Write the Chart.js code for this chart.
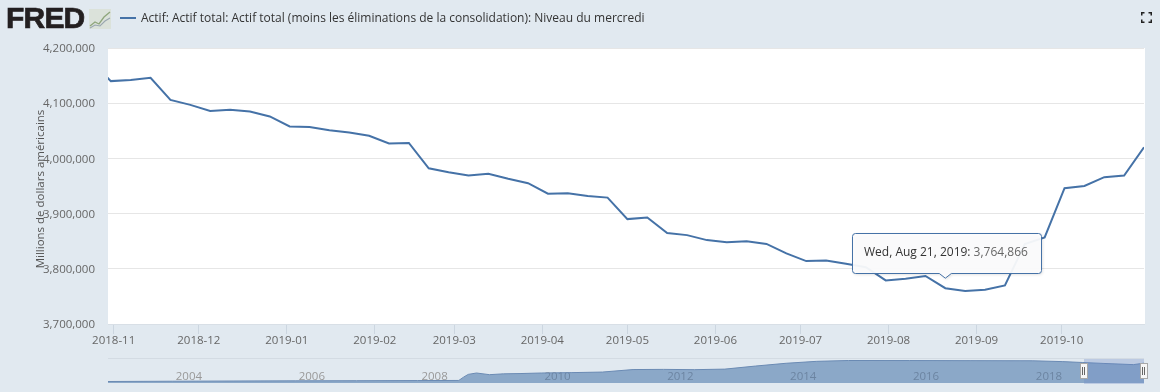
<!DOCTYPE html>
<html lang="fr">

<head>
    <meta charset="UTF-8">
    <title>FRED - Actif total</title>
    <script src="https://cdn.jsdelivr.net/npm/chart.js"></script>
    <style>
        html, body { margin: 0; padding: 0; width: 1160px; height: 392px; overflow: hidden; background: #e1e9f0; }
        body { position: relative; font-family: "Open Sans", sans-serif; }
        canvas { position: absolute; left: 0; }
        #grafico { top: 0; }
        #navegador { top: 355px; }
        .logo { position: absolute; left: 6px; top: 2px; font: bold 30px/32px "Liberation Sans", sans-serif; letter-spacing: -0.8px; color: #231f20; -webkit-text-stroke: 0.7px #231f20; }
        .icone { position: absolute; left: 89px; top: 9px; }
        .traco { position: absolute; left: 120px; top: 17px; width: 16px; height: 2px; background: #4572a7; }
        .legenda { position: absolute; left: 141px; top: 9px; font-size: 12px; line-height: 18px; color: #333; white-space: nowrap; }
        .expandir { position: absolute; left: 1141px; top: 12px; }
    </style>
</head>

<body>

    <canvas id="grafico" width="1160" height="392"></canvas>
    <canvas id="navegador" width="1160" height="37"></canvas>

    <!--header-->
    <div class="logo">FRED</div>
    <svg class="icone" width="22" height="20">
        <rect width="22" height="20" fill="#dbe2da" />
        <polyline points="1,17 6,13 10,15 15,8 21,3" fill="none" stroke="#8fa67c" stroke-width="1.3" />
        <polyline points="1,19 6,16 11,17 16,12 21,9" fill="none" stroke="#9aa7b0" stroke-width="1.1" />
    </svg>
    <div class="traco"></div>
    <div class="legenda">Actif: Actif total: Actif total (moins les éliminations de la consolidation): Niveau du mercredi</div>
    <svg class="expandir" width="11" height="11">
        <path d="M0.75 3.5V0.75H3.5M7.5 0.75H10.25V3.5M10.25 7.5V10.25H7.5M3.5 10.25H0.75V7.5" fill="none" stroke="#222" stroke-width="1.5" />
    </svg>

    <script>
        // dados (milhoes de dolares)
        const datas = ['2018-10-24', '2018-10-31', '2018-11-07', '2018-11-14', '2018-11-21', '2018-11-28',
            '2018-12-05', '2018-12-12', '2018-12-19', '2018-12-26', '2019-01-02', '2019-01-09', '2019-01-16',
            '2019-01-23', '2019-01-30', '2019-02-06', '2019-02-13', '2019-02-20', '2019-02-27', '2019-03-06',
            '2019-03-13', '2019-03-20', '2019-03-27', '2019-04-03', '2019-04-10', '2019-04-17', '2019-04-24',
            '2019-05-01', '2019-05-08', '2019-05-15', '2019-05-22', '2019-05-29', '2019-06-05', '2019-06-12',
            '2019-06-19', '2019-06-26', '2019-07-03', '2019-07-10', '2019-07-17', '2019-07-24', '2019-07-31',
            '2019-08-07', '2019-08-14', '2019-08-21', '2019-08-28', '2019-09-04', '2019-09-11', '2019-09-18',
            '2019-09-25', '2019-10-02', '2019-10-09', '2019-10-16', '2019-10-23', '2019-10-30'];
        const valores = [4176000, 4140000, 4142000, 4146000, 4106000, 4097000,
            4086000, 4088000, 4085000, 4076000, 4058000, 4057000, 4051000,
            4047000, 4041000, 4027000, 4028000, 3982000, 3975000, 3969000,
            3972000, 3963000, 3955000, 3936000, 3937000, 3932000, 3929000,
            3890000, 3893000, 3865000, 3861000, 3852000, 3848000, 3850000,
            3845000, 3828000, 3814000, 3815000, 3809000, 3803000, 3779000,
            3782000, 3787000, 3764866, 3760000, 3762000, 3770000, 3845000,
            3857000, 3946000, 3950000, 3966000, 3969000, 4020000];

        const mesesEixo = ['2018-11', '2018-12', '2019-01', '2019-02', '2019-03', '2019-04',
            '2019-05', '2019-06', '2019-07', '2019-08', '2019-09', '2019-10'];
        const ticksY = [3700000, 3800000, 3900000, 4000000, 4100000, 4200000];
        const inicioX = '2018-10-30';
        const fimX = '2019-10-30';

        const tituloSerie = 'Actif: Actif total: Actif total (moins les éliminations de la consolidation): Niveau du mercredi';
        const tituloY = 'Millions de dollars américains';
        const dataTooltip = '2019-08-21';
        const textoTooltip = 'Wed, Aug 21, 2019:';

        // navegador (serie longa, estimada)
        const datasNav = ['2002-12-18', '2004-01-07', '2005-01-05', '2006-01-04', '2007-01-03', '2008-01-02',
            '2008-09-03', '2008-10-01', '2008-10-29', '2008-12-17', '2009-03-04', '2009-05-27', '2009-09-02',
            '2010-01-06', '2010-07-07', '2011-01-05', '2011-07-06', '2012-01-04', '2012-07-04', '2013-01-02',
            '2013-07-03', '2014-01-01', '2014-07-02', '2015-01-07', '2016-01-06', '2017-01-04', '2018-01-03',
            '2018-07-04', '2018-10-31', '2019-03-06', '2019-08-28', '2019-10-30'];
        const valoresNav = [720000, 770000, 810000, 840000, 860000, 890000,
            910000, 1500000, 2000000, 2250000, 1950000, 2100000, 2150000,
            2250000, 2320000, 2420000, 2870000, 2900000, 2850000, 2950000,
            3500000, 4000000, 4350000, 4500000, 4490000, 4470000, 4450000,
            4300000, 4140000, 3970000, 3760000, 4020000];
        const anosNav = [2004, 2006, 2008, 2010, 2012, 2014, 2016, 2018];
        const inicioSelecao = '2018-11-07';

        function ms(texto) {
            let p = texto.split('-').map(Number);
            return Date.UTC(p[0], p[1] - 1, p[2] || 1);
        }

        // fundo branco da area do grafico + titulo do eixo y
        const pluginFundo = {
            id: 'fundo',
            beforeDraw(chart) {
                let a = chart.chartArea;
                let ctx = chart.ctx;
                ctx.fillStyle = '#ffffff';
                ctx.fillRect(a.left, a.top, a.right - a.left + 1, a.bottom - a.top);
                ctx.save();
                ctx.translate(41, 189);
                ctx.rotate(-Math.PI / 2);
                ctx.font = '11.5px "Open Sans"';
                ctx.fillStyle = '#555555';
                ctx.textAlign = 'center';
                ctx.textBaseline = 'middle';
                ctx.fillText(tituloY, 0, 0);
                ctx.restore();
            }
        };

        const pluginTooltip = {
            id: 'tooltipFixo',
            afterDraw(chart) {
                let ctx = chart.ctx;
                let i = datas.indexOf(dataTooltip);
                let px = chart.scales.x.getPixelForValue(ms(dataTooltip));
                let py = chart.scales.y.getPixelForValue(valores[i]);
                let x = 852.5, y = 233.5, w = 189, h = 40;
                let base = y + h;
                ctx.save();
                ctx.beginPath();
                ctx.moveTo(x + 3, y);
                ctx.arcTo(x + w, y, x + w, base, 3);
                ctx.arcTo(x + w, base, x, base, 3);
                ctx.lineTo(px + 6, base);
                ctx.lineTo(px, py - 10);
                ctx.lineTo(px - 6, base);
                ctx.arcTo(x, base, x, y, 3);
                ctx.arcTo(x, y, x + w, y, 3);
                ctx.closePath();
                ctx.shadowColor = 'rgba(0,0,0,0.15)';
                ctx.shadowBlur = 3;
                ctx.shadowOffsetX = 1;
                ctx.shadowOffsetY = 1;
                ctx.fillStyle = 'rgba(252,252,253,0.94)';
                ctx.fill();
                ctx.shadowColor = 'transparent';
                ctx.strokeStyle = '#4572a7';
                ctx.lineWidth = 1;
                ctx.stroke();
                ctx.font = '12px "Open Sans"';
                ctx.textBaseline = 'middle';
                ctx.fillStyle = '#333333';
                ctx.fillText(textoTooltip, 864, 253);
                let largura = ctx.measureText(textoTooltip + ' ').width;
                ctx.fillStyle = '#666666';
                ctx.fillText(valores[i].toLocaleString('en-US'), 864 + largura, 253);
                ctx.restore();
            }
        };

        new Chart(document.getElementById('grafico'), {
            type: 'line',
            plugins: [pluginFundo, pluginTooltip],
            data: {
                datasets: [{
                    label: tituloSerie,
                    data: datas.map((d, i) => ({ x: ms(d), y: valores[i] })),
                    borderColor: '#4572a7',
                    borderWidth: 2,
                    pointRadius: 0,
                    tension: 0
                }]
            },
            options: {
                responsive: false,
                animation: false,
                events: [],
                layout: { padding: { top: 48, right: 16, left: 0, bottom: 0 } },
                plugins: { legend: { display: false }, tooltip: { enabled: false } },
                scales: {
                    x: {
                        type: 'linear',
                        min: ms(inicioX),
                        max: ms(fimX),
                        afterBuildTicks(scale) {
                            scale.ticks = mesesEixo.map(m => ({ value: ms(m) }));
                        },
                        afterFit(scale) { scale.height = 68; },
                        grid: { drawOnChartArea: false, tickLength: 10, color: '#ccd6e0' },
                        border: { color: '#d8dfe6' },
                        ticks: {
                            autoSkip: false,
                            maxRotation: 0,
                            padding: 0,
                            color: '#666666',
                            font: { family: 'Open Sans', size: 11.5 },
                            callback(v) {
                                return new Date(v).toISOString().slice(0, 7);
                            }
                        }
                    },
                    y: {
                        min: 3700000,
                        max: 4200000,
                        afterBuildTicks(scale) {
                            scale.ticks = ticksY.map(v => ({ value: v }));
                        },
                        afterFit(scale) { scale.width = 108; },
                        grid: { drawTicks: false, color: '#e6e6e6' },
                        border: { display: false },
                        ticks: {
                            padding: 13,
                            labelOffset: 1,
                            color: '#666666',
                            font: { family: 'Open Sans', size: 11.5 },
                            callback(v) { return v.toLocaleString('en-US'); }
                        }
                    }
                }
            }
        });

        // faixa selecionada e alcas do navegador
        const pluginSelecao = {
            id: 'selecao',
            beforeDraw(chart) {
                let a = chart.chartArea;
                let ctx = chart.ctx;
                ctx.fillStyle = '#d3dbe3';
                ctx.fillRect(a.left, 3, a.right - a.left, 1);
            },
            afterDatasetsDraw(chart) {
                let a = chart.chartArea;
                let ctx = chart.ctx;
                let x1 = Math.round(chart.scales.x.getPixelForValue(ms(inicioSelecao)));
                let x2 = Math.round(a.right);
                ctx.fillStyle = 'rgba(102,133,194,0.3)';
                ctx.fillRect(x1, a.top + 1, x2 - x1, a.bottom - a.top);
                [x1, x2].forEach(x => {
                    ctx.fillStyle = '#f6f6f6';
                    ctx.strokeStyle = '#a8a8a8';
                    ctx.fillRect(x - 3.5, 8.5, 7, 15);
                    ctx.strokeRect(x - 3.5, 8.5, 7, 15);
                    ctx.strokeStyle = '#666666';
                    ctx.beginPath();
                    ctx.moveTo(x - 1.5, 12); ctx.lineTo(x - 1.5, 20);
                    ctx.moveTo(x + 0.5, 12); ctx.lineTo(x + 0.5, 20);
                    ctx.stroke();
                });
            }
        };

        new Chart(document.getElementById('navegador'), {
            type: 'line',
            plugins: [pluginSelecao],
            data: {
                datasets: [{
                    data: datasNav.map((d, i) => ({ x: ms(d), y: valoresNav[i] })),
                    borderColor: '#6a8ab3',
                    borderWidth: 1,
                    backgroundColor: 'rgba(69,114,167,0.55)',
                    fill: 'start',
                    pointRadius: 0,
                    tension: 0
                }]
            },
            options: {
                responsive: false,
                animation: false,
                events: [],
                clip: false,
                layout: { padding: { top: 3, right: 16, left: 108, bottom: 0 } },
                plugins: { legend: { display: false }, tooltip: { enabled: false } },
                scales: {
                    x: {
                        type: 'linear',
                        min: ms(datasNav[0]),
                        max: ms(fimX),
                        afterBuildTicks(scale) {
                            scale.ticks = anosNav.map(a => ({ value: Date.UTC(a, 0, 1) }));
                        },
                        afterFit(scale) { scale.height = 9; },
                        grid: { display: false },
                        border: { display: false },
                        ticks: {
                            autoSkip: false,
                            maxRotation: 0,
                            mirror: true, // sem isso o rotulo e cortado pela caixa da escala
                            align: 'start',
                            labelOffset: 4,
                            padding: -1,
                            color: '#999999',
                            font: { family: 'Open Sans', size: 11.5 },
                            callback(v) { return new Date(v).getUTCFullYear(); }
                        }
                    },
                    y: {
                        display: false,
                        min: 450000,
                        max: 4950000
                    }
                }
            }
        });
    </script>
</body>

</html>
